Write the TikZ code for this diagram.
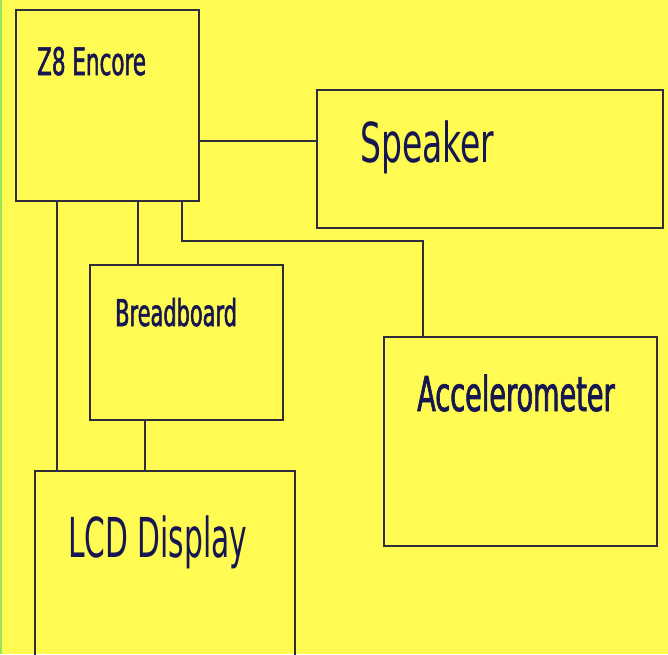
\documentclass[tikz,border=0pt]{standalone}
\usepackage{fontspec}
\setmainfont{DejaVu Sans}
\newfontfamily\narrowfont{DejaVu Sans}[FakeStretch=0.6]
\newfontfamily\narrowerfont{DejaVu Sans}[FakeStretch=0.54]
\newfontfamily\narrowheavyfont{DejaVu Sans}[FakeStretch=0.565,FakeBold=1.4]
\usetikzlibrary{positioning}
\definecolor{bgyellow}{RGB}{255,251,82}
\definecolor{edgegreen}{RGB}{150,230,90}
\definecolor{wire}{RGB}{45,45,60}
\definecolor{ink}{RGB}{22,22,80}

\begin{document}
\begin{tikzpicture}[x=1pt,y=-1pt,
  block/.style={draw=wire, line width=1.6pt, inner sep=0pt},
  lbl/.style={text=ink, inner sep=0pt, anchor=base west},
  wire/.style={draw=wire, line width=1.6pt}]
\useasboundingbox (0,0) rectangle (668,654);
\fill[bgyellow] (0,0) rectangle (668,654);
\fill[edgegreen] (0,0) rectangle (2,654);
% blocks
\node[block, minimum width=183pt, minimum height=191pt] (z8) at (107.5,105.5) {};
\node[block, minimum width=346pt, minimum height=138pt] (spk) at (490,159) {};
\node[block, minimum width=193pt, minimum height=155pt] (brd) at (186.5,342.5) {};
\node[block, minimum width=273pt, minimum height=209pt] (acc) at (520.5,441.5) {};
\node[block, minimum width=260pt, minimum height=209pt] (lcd) at (165,575.5) {};
% labels
\node[lbl, font=\narrowheavyfont\fontsize{38}{40}\selectfont] (z8txt) at (37,75) {Z8 Encore};
\node[lbl, font=\narrowfont\fontsize{55}{60}\selectfont] (spktxt) at (360,162) {Speaker};
\node[lbl, font=\narrowheavyfont\fontsize{37}{40}\selectfont] (brdtxt) at (115,326) {Breadboard};
\node[lbl, font=\narrowheavyfont\fontsize{48}{50}\selectfont] (acctxt) at (417,411) {Accelerometer};
\node[lbl, font=\narrowerfont\fontsize{55}{60}\selectfont] (lcdtxt) at (68,557) {LCD Display};
% wires
\coordinate (bend) at (423,241);
\draw[wire] (z8.east |- 0,141) -- (spk.west |- 0,141);
\draw[wire] (z8.south -| 57,0) -- (lcd.north -| 57,0);
\draw[wire] (z8.south -| 138,0) -- (brd.north -| 138,0);
\draw[wire] (z8.south -| 182,0) |- (bend) -- (acc.north -| bend);
\draw[wire] (brd.south -| 145,0) -- (lcd.north -| 145,0);
\end{tikzpicture}
\end{document}
